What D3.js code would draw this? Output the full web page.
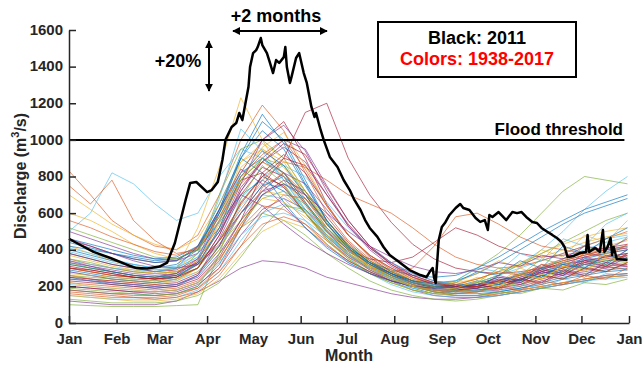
<!DOCTYPE html>
<html>
<head>
<meta charset="utf-8">
<script src="https://cdn.jsdelivr.net/npm/d3@7"></script>
<style>
  body { margin: 0; background: #fff; }
  svg { display: block; font-family: "Liberation Sans", Arial, sans-serif; }
</style>
</head>
<body>
<svg id="chart" width="643" height="368"></svg>
<script>
// month ticks (day of year) and labels
const monthDays = [0, 31, 59, 90, 120, 151, 181, 212, 243, 273, 304, 334, 365];
const monthLabels = ["Jan", "Feb", "Mar", "Apr", "May", "Jun", "Jul", "Aug", "Sep", "Oct", "Nov", "Dec", "Jan"];
const yTicks = [0, 200, 400, 600, 800, 1000, 1200, 1400, 1600];
const floodThreshold = 1000;

// 2011 daily discharge
const days2011 = [0,5,16,27,38,44,51,59,64,69,76,79,83,90,93,97,100,102,106,109,111,113,115,117,118,120,122,123,125,126,129,131,133,135,137,140,141,142,144,145,148,150,153,155,158,160,161,164,166,170,175,179,183,186,190,193,196,201,205,209,216,222,229,233,235,237,238,239,241,243,245,248,252,255,257,261,265,268,271,273,274,276,280,283,285,289,292,295,298,302,305,308,312,315,318,321,323,325,329,333,337,338,339,343,346,348,349,351,353,354,355,357,364];
const flow2011 = [460,437,388,355,317,300,298,308,330,437,672,765,770,715,726,770,890,1000,1070,1092,1147,1108,1200,1290,1398,1474,1490,1507,1556,1518,1474,1420,1365,1436,1420,1452,1507,1398,1311,1343,1447,1474,1365,1311,1180,1125,1147,1054,1000,907,852,781,726,672,617,562,519,470,415,371,328,289,262,251,278,300,246,218,453,524,546,590,628,650,628,617,573,552,562,508,590,579,606,579,562,606,600,606,579,552,546,519,497,481,464,442,415,360,366,382,388,481,388,410,388,508,388,415,464,371,415,350,344];

// other years (1938-2017), sampled every two weeks
const sampleDays = [0,14,28,42,56,70,84,98,112,126,140,154,168,182,196,210,224,238,252,266,280,294,308,322,336,350,364];
const yearlyFlows = [
  [380,350,320,300,280,300,420,650,900,1050,950,750,560,420,330,270,220,190,180,190,210,240,270,300,320,340,350],
  [830,700,560,480,420,400,480,700,1000,1190,1050,820,600,450,350,280,230,200,190,200,230,260,290,330,360,380,400],
  [300,280,260,250,240,300,520,850,1230,1000,800,620,480,380,310,260,220,200,190,200,220,260,300,350,380,420,450],
  [120,110,100,100,100,120,170,230,300,340,330,300,250,220,190,160,140,130,130,140,160,180,200,220,240,260,270],
  [100,95,90,90,90,95,100,380,520,600,560,480,380,300,230,180,150,130,120,130,150,170,190,210,230,250,260],
  [500,600,820,760,650,560,600,800,950,900,780,620,480,380,310,260,220,200,200,220,260,300,340,380,420,460,480],
  [300,280,260,250,240,250,320,450,600,750,900,1150,1200,900,700,550,430,350,300,280,270,280,300,320,340,360,380],
  [250,230,210,200,190,200,260,400,600,750,800,700,550,400,300,240,190,160,150,150,170,190,220,250,270,290,300],
  [350,320,300,280,270,280,330,450,620,780,880,850,780,700,650,600,520,430,360,320,300,310,340,380,420,460,500],
  [420,380,340,310,290,300,380,600,850,950,880,700,520,400,320,260,210,180,170,180,200,230,260,300,330,360,380],
  [200,190,180,170,160,170,210,300,480,620,680,620,500,380,290,230,180,150,140,140,150,170,190,210,230,250,260],
  [320,300,280,260,250,260,300,450,650,800,750,600,450,350,280,230,200,200,230,300,380,480,600,720,800,780,760],
  [280,260,240,230,220,230,280,420,600,700,680,560,430,330,270,220,190,180,190,220,260,320,400,500,620,720,800],
  [450,420,380,350,330,340,420,620,820,1000,1100,900,650,480,370,300,240,210,200,210,230,260,300,340,370,400,420],
  [180,170,160,160,150,160,200,320,520,700,760,680,540,420,330,260,210,180,160,160,170,190,210,240,260,280,290],
  [300,280,260,250,240,250,300,450,650,800,750,600,460,360,300,280,300,420,580,600,540,470,420,400,380,370,360],
  [600,560,500,430,380,350,400,600,800,880,800,650,500,390,310,260,220,200,210,240,280,330,380,430,470,500,520],
  [260,240,220,210,200,210,250,380,560,720,820,760,620,480,370,290,230,190,170,170,180,200,230,260,280,300,310],
  [330,300,280,260,250,270,380,700,950,1000,900,720,540,410,320,260,210,180,170,180,200,230,260,290,320,340,350],
  [150,140,130,130,130,140,180,280,450,600,650,600,480,360,270,210,170,150,140,140,150,170,190,210,230,240,250],
  [380,350,320,300,280,290,350,500,700,850,800,650,500,400,350,330,360,440,520,480,420,380,360,370,390,410,430],
  [400,370,340,320,300,320,400,620,900,1100,1000,780,560,420,330,270,220,190,180,190,210,240,280,320,350,380,400],
  [220,210,200,190,180,190,230,350,520,640,620,540,430,340,280,230,200,180,180,200,230,270,310,350,380,400,410],
  [700,620,540,480,430,400,460,650,880,950,850,700,540,420,340,280,240,220,220,240,280,320,360,400,440,470,490],
  [280,260,240,230,220,240,300,480,720,900,1000,950,750,560,420,330,260,220,200,200,220,250,280,310,340,360,380],
  [350,330,300,280,270,280,320,420,560,680,720,650,520,410,330,270,230,210,200,220,260,320,380,440,500,560,600],
  [240,230,220,210,200,210,260,420,640,760,740,620,480,370,290,240,200,180,170,180,200,230,260,290,310,330,340],
  [310,290,270,250,240,260,340,560,780,820,740,600,470,370,300,250,210,190,180,190,210,240,270,300,330,350,370],
  [420,400,380,360,340,350,400,550,700,780,720,600,480,390,330,290,260,250,260,300,360,430,500,560,620,660,700],
  [180,170,160,150,150,160,190,280,420,540,580,540,450,360,290,240,200,170,150,150,160,180,200,220,240,260,270],
  [150,140,130,120,120,130,160,240,380,500,560,520,430,340,270,220,180,160,150,150,160,180,200,220,240,250,260],
  [500,460,420,380,350,340,380,520,720,880,960,880,700,530,410,330,270,230,210,210,220,250,290,330,360,390,410],
  [260,250,240,230,220,240,300,520,780,900,820,660,500,380,300,240,200,170,160,170,190,220,250,280,300,320,330],
  [340,320,300,290,280,300,360,500,680,800,860,800,660,520,410,330,270,230,210,210,230,260,300,350,400,440,470],
  [200,190,180,170,170,180,220,340,540,700,780,720,580,440,340,270,220,190,180,180,190,210,240,270,290,310,320],
  [460,430,400,370,350,360,420,600,820,900,820,660,510,400,320,270,230,220,230,270,330,400,470,540,600,640,680],
  [750,650,780,560,450,380,400,560,760,880,820,680,520,400,320,260,220,200,190,200,230,260,300,340,370,400,420],
  [260,240,230,220,210,230,300,560,880,980,900,720,540,400,310,250,210,190,200,250,220,300,260,340,300,380,350],
  [330,310,280,260,250,270,350,620,840,760,640,520,420,340,280,230,200,180,210,190,260,230,320,280,360,330,400],
  [190,180,170,160,150,160,200,380,680,860,760,600,460,350,270,220,180,160,180,170,220,200,260,240,300,280,330],
  [410,380,350,320,300,310,380,680,1060,940,780,610,470,370,300,250,210,190,180,230,210,280,250,330,300,390,420],
  [230,220,210,200,190,200,240,360,560,820,920,820,640,480,360,280,230,200,190,210,250,230,290,270,340,310,380],
  [290,270,250,240,230,250,330,600,900,820,660,520,410,330,270,230,200,190,220,280,260,340,300,420,380,460,520],
  [160,150,140,140,130,140,170,260,420,600,700,680,560,430,330,260,210,180,170,200,180,240,210,280,250,310,290],
  [370,340,310,290,270,280,340,540,780,960,1040,860,640,480,370,290,240,210,200,220,200,260,240,310,290,350,330],
  [240,230,220,210,200,210,260,460,700,640,540,450,380,320,270,230,200,190,200,190,240,220,280,260,320,300,360],
  [520,480,440,400,360,350,400,580,780,900,860,720,560,430,340,280,230,200,190,220,300,260,350,320,420,380,470],
  [210,200,190,180,170,180,220,330,480,580,600,560,470,380,300,240,200,170,160,180,170,210,190,240,220,270,260],
  [300,290,270,250,240,250,300,480,740,880,980,920,740,560,420,320,250,210,190,210,190,240,220,290,260,330,310],
  [440,410,380,350,330,340,410,620,920,1140,980,760,560,420,330,270,230,210,200,230,210,270,250,320,300,370,350],
  [170,160,150,140,140,150,190,300,520,740,820,700,540,410,310,250,200,170,160,170,200,180,230,210,260,240,300],
  [270,260,250,240,230,240,280,400,600,720,700,600,480,380,310,260,220,200,220,270,340,300,400,360,480,440,560],
  [340,310,290,270,260,270,330,500,760,1000,1080,940,720,530,400,310,250,210,200,210,240,220,280,260,330,310,370],
  [130,120,110,110,110,120,150,220,360,520,640,620,520,410,320,250,200,170,150,150,170,160,190,180,220,210,240],
  [390,360,330,310,290,300,360,560,820,900,800,640,490,380,300,250,220,210,230,300,280,380,340,460,420,540,600],
  [250,240,230,220,210,220,270,420,660,800,900,860,700,540,410,320,260,220,200,200,230,210,260,240,300,280,330],
  [320,300,280,260,250,260,320,520,800,940,860,700,540,410,320,260,220,200,190,210,250,230,300,270,350,320,400],
  [560,520,470,430,390,370,410,580,800,920,1000,840,640,480,370,300,250,220,210,240,280,260,320,300,380,360,430],
  [220,200,190,180,170,180,220,340,540,680,660,580,480,380,300,240,200,180,190,230,200,270,240,310,280,360,340],
  [460,420,380,340,310,300,320,430,600,720,760,700,600,500,420,360,310,280,270,290,330,310,370,350,420,400,460]
];

const lineColors = ["#0072BD", "#D95319", "#EDB120", "#7E2F8E", "#77AC30", "#4DBEEE", "#A2142F"];
const axisColor = "#262626";

const svg = d3.select("#chart");

const x = d3.scaleLinear().domain([0, 365]).range([69, 629]);
const y = d3.scaleLinear().domain([0, 1600]).range([323, 30]);

const line = d3.line()
  .x(d => x(d[0]))
  .y(d => y(d[1]));

// colored years
svg.append("g")
  .selectAll("path")
  .data(yearlyFlows)
  .enter()
  .append("path")
  .attr("d", vals => line(vals.map((v, i) => [sampleDays[i], v])))
  .attr("fill", "none")
  .attr("stroke", (d, i) => lineColors[i % lineColors.length])
  .attr("stroke-width", 0.8)
  .attr("stroke-opacity", 0.8);

// flood threshold
svg.append("line")
  .attr("x1", x(0)).attr("x2", x(362))
  .attr("y1", y(floodThreshold)).attr("y2", y(floodThreshold))
  .attr("stroke", "#000")
  .attr("stroke-width", 2);

svg.append("text")
  .attr("x", 623).attr("y", 135)
  .attr("text-anchor", "end")
  .attr("font-size", 17).attr("font-weight", "bold")
  .text("Flood threshold");

// 2011
svg.append("path")
  .attr("d", line(days2011.map((d, i) => [d, flow2011[i]])))
  .attr("fill", "none")
  .attr("stroke", "#000")
  .attr("stroke-width", 2.5)
  .attr("stroke-linejoin", "round");

// axes
const gx = svg.append("g")
  .attr("transform", "translate(0," + y(0) + ")")
  .call(d3.axisBottom(x)
    .tickValues(monthDays)
    .tickFormat((d, i) => monthLabels[i])
    .tickSizeInner(-7).tickSizeOuter(0).tickPadding(10));

const gy = svg.append("g")
  .attr("transform", "translate(" + x(0) + ",0)")
  .call(d3.axisLeft(y)
    .tickValues(yTicks)
    .tickFormat(d3.format("d"))
    .tickSizeInner(-7).tickSizeOuter(0).tickPadding(6));

[gx, gy].forEach(g => {
  g.selectAll("path, line").attr("stroke", axisColor).attr("stroke-width", 1.5);
  g.selectAll("text")
    .attr("fill", axisColor)
    .attr("font-size", 15)
    .attr("font-weight", "bold")
    .attr("font-family", "'Liberation Sans', Arial, sans-serif");
});
gy.selectAll("text").attr("dy", "0.28em");

svg.append("text")
  .attr("x", 349).attr("y", 361)
  .attr("text-anchor", "middle")
  .attr("font-size", 16).attr("font-weight", "bold")
  .attr("fill", axisColor)
  .text("Month");

const yl = svg.append("text")
  .attr("transform", "translate(26,176) rotate(-90)")
  .attr("text-anchor", "middle")
  .attr("font-size", 16).attr("font-weight", "bold")
  .attr("fill", axisColor);
yl.append("tspan").text("Discharge (m");
yl.append("tspan").attr("font-size", 11).attr("dy", -7).text("3");
yl.append("tspan").attr("dy", 7).text("/s)");

// legend box
svg.append("rect")
  .attr("x", 378).attr("y", 22)
  .attr("width", 198).attr("height", 55)
  .attr("fill", "#fff")
  .attr("stroke", "#000").attr("stroke-width", 2);

svg.append("text")
  .attr("x", 477).attr("y", 44)
  .attr("text-anchor", "middle")
  .attr("font-size", 18).attr("font-weight", "bold")
  .text("Black: 2011");

svg.append("text")
  .attr("x", 477).attr("y", 65)
  .attr("text-anchor", "middle")
  .attr("font-size", 18).attr("font-weight", "bold")
  .attr("fill", "#ff0000")
  .text("Colors: 1938-2017");

// annotations
const defs = svg.append("defs");
defs.append("marker")
  .attr("id", "head")
  .attr("viewBox", "0 0 10 10")
  .attr("refX", 9).attr("refY", 5)
  .attr("markerWidth", 4).attr("markerHeight", 4)
  .attr("orient", "auto-start-reverse")
  .append("path")
  .attr("d", "M0,0 L10,5 L0,10 Z")
  .attr("fill", "#000");

svg.append("line")
  .attr("x1", 233).attr("x2", 327)
  .attr("y1", 31).attr("y2", 31)
  .attr("stroke", "#000").attr("stroke-width", 2)
  .attr("marker-start", "url(#head)")
  .attr("marker-end", "url(#head)");

svg.append("text")
  .attr("x", 276).attr("y", 22)
  .attr("text-anchor", "middle")
  .attr("font-size", 18).attr("font-weight", "bold")
  .text("+2 months");

svg.append("line")
  .attr("x1", 209).attr("x2", 209)
  .attr("y1", 41).attr("y2", 91)
  .attr("stroke", "#000").attr("stroke-width", 2)
  .attr("marker-start", "url(#head)")
  .attr("marker-end", "url(#head)");

svg.append("text")
  .attr("x", 178).attr("y", 67)
  .attr("text-anchor", "middle")
  .attr("font-size", 18).attr("font-weight", "bold")
  .text("+20%");
</script>
</body>
</html>
